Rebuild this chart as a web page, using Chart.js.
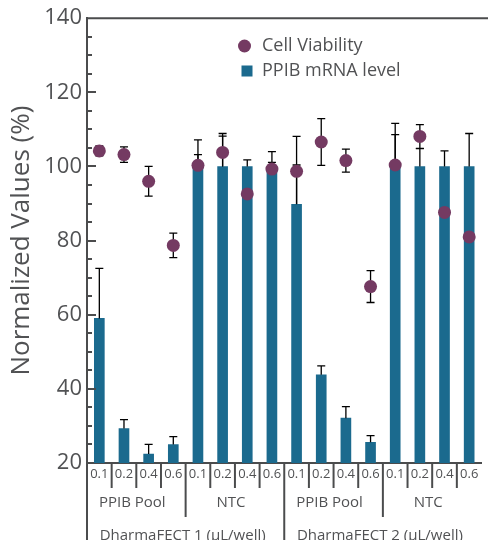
<!DOCTYPE html>
<html>
<head>
<meta charset="utf-8">
<script src="https://cdn.jsdelivr.net/npm/chart.js@4"></script>
<style>
  html, body { margin: 0; padding: 0; background: #fff; }
  #wrap { width: 488px; height: 540px; position: relative; }
</style>
</head>
<body>
<div id="wrap"><canvas id="chart"></canvas></div>
<script>
// doses per bar, group names and reagent names
const doses = ['0.1', '0.2', '0.4', '0.6', '0.1', '0.2', '0.4', '0.6',
               '0.1', '0.2', '0.4', '0.6', '0.1', '0.2', '0.4', '0.6'];
const groups = ['PPIB Pool', 'NTC', 'PPIB Pool', 'NTC'];
const reagents = ['DharmaFECT 1 (µL/well)', 'DharmaFECT 2 (µL/well)'];

// PPIB mRNA level (bars) and upper error
const mrnaLevel = [59, 29.3, 22.4, 25, 100, 100, 100, 100,
                   89.8, 43.8, 32.1, 25.6, 100, 100, 100, 100];
const mrnaErr = [13.5, 2.4, 2.6, 2.1, 7.2, 8.9, 1.8, 4.0,
                 10.6, 2.4, 3.1, 1.8, 11.6, 4.8, 4.2, 8.9];

// cell viability (dots) and +/- error
const viability = [104.2, 103.2, 96.0, 78.7, 100.3, 103.8, 92.6, 99.3,
                   98.7, 106.6, 101.6, 67.6, 100.4, 108.1, 87.6, 81.0];
const viabilityErr = [1.35, 2.1, 4.0, 3.3, 2.9, 4.4, 2.0, 1.8,
                      9.4, 6.3, 3.1, 4.3, 8.2, 3.2, 2.0, 2.0];

const yTicks = [20, 40, 60, 80, 100, 120, 140];

const barColor = '#1b6a8e';
const dotColor = '#743a62';
const axisColor = '#4b4c4d';
const textColor = '#515254';
const fontName = 'Open Sans';

// draw one error bar with a cap
function errorLine(ctx, x, yFrom, yTo, cap) {
  ctx.beginPath();
  ctx.moveTo(x, yFrom);
  ctx.lineTo(x, yTo);
  ctx.moveTo(x - cap, yTo);
  ctx.lineTo(x + cap, yTo);
  ctx.stroke();
}

const errorBars = {
  id: 'errorBars',
  // viability error bars go behind the bars
  beforeDatasetsDraw(chart) {
    const ctx = chart.ctx;
    const x = chart.scales.x, y = chart.scales.y;
    ctx.save();
    ctx.strokeStyle = '#000';
    ctx.lineWidth = 1.3;
    viability.forEach((v, i) => {
      const px = x.getPixelForValue(i);
      const mid = y.getPixelForValue(v);
      errorLine(ctx, px, mid, y.getPixelForValue(v + viabilityErr[i]), 4);
      errorLine(ctx, px, mid, y.getPixelForValue(v - viabilityErr[i]), 4);
    });
    ctx.restore();
  },
  afterDatasetDraw(chart, args) {
    if (args.index !== 0) return;
    const ctx = chart.ctx;
    const x = chart.scales.x, y = chart.scales.y;
    ctx.save();
    ctx.strokeStyle = '#000';
    ctx.lineWidth = 1.3;
    mrnaLevel.forEach((v, i) => {
      const px = x.getPixelForValue(i);
      errorLine(ctx, px, y.getPixelForValue(v), y.getPixelForValue(v + mrnaErr[i]), 4);
    });
    ctx.restore();
  }
};

const frame = {
  id: 'frame',
  afterDraw(chart) {
    const ctx = chart.ctx;
    const area = chart.chartArea;
    const x = chart.scales.x, y = chart.scales.y;
    const W = chart.width, H = chart.height;
    ctx.save();
    ctx.strokeStyle = axisColor;
    ctx.lineWidth = 2;

    // top line and long left line
    ctx.beginPath();
    ctx.moveTo(area.left, area.top);
    ctx.lineTo(W, area.top);
    ctx.moveTo(area.left, area.top);
    ctx.lineTo(area.left, H);
    ctx.stroke();

    // inward ticks on y axis, minor every 5
    for (let v = 25; v < 140; v += 5) {
      const py = Math.round(y.getPixelForValue(v));
      const len = yTicks.includes(v) ? 9 : 5;
      ctx.beginPath();
      ctx.moveTo(area.left, py);
      ctx.lineTo(area.left + len, py);
      ctx.stroke();
    }

    // dividers below the axis
    const step = (x.getPixelForValue(1) - x.getPixelForValue(0));
    for (let i = 1; i < doses.length; i++) {
      const bx = x.getPixelForValue(i) - step / 2;
      let bottom = area.bottom + 25;
      if (i % 4 === 0) bottom = area.bottom + 54;
      if (i % 8 === 0) bottom = H;
      ctx.beginPath();
      ctx.moveTo(bx, area.bottom);
      ctx.lineTo(bx, bottom);
      ctx.stroke();
    }

    ctx.fillStyle = textColor;
    ctx.textAlign = 'center';
    ctx.textBaseline = 'middle';
    ctx.font = '15px "' + fontName + '"';
    groups.forEach((g, k) => {
      const cx = (x.getPixelForValue(k * 4) + x.getPixelForValue(k * 4 + 3)) / 2;
      ctx.fillText(g, cx - 4, area.bottom + 40);
    });
    reagents.forEach((r, k) => {
      const cx = (x.getPixelForValue(k * 8) + x.getPixelForValue(k * 8 + 7)) / 2;
      ctx.fillText(r, cx - 3, area.bottom + 73);
    });

    // legend in the upper part of the plot
    ctx.textAlign = 'left';
    ctx.font = '18px "' + fontName + '"';
    ctx.fillStyle = dotColor;
    ctx.beginPath();
    ctx.arc(244.5, 46, 6.5, 0, Math.PI * 2);
    ctx.fill();
    ctx.fillStyle = barColor;
    ctx.fillRect(241.5, 65.5, 11, 11);
    ctx.fillStyle = textColor;
    ctx.fillText(chart.data.datasets[1].label, 262, 46);
    ctx.fillText(chart.data.datasets[0].label, 262, 71);
    ctx.restore();
  }
};

new Chart(document.getElementById('chart'), {
  type: 'bar',
  data: {
    labels: doses,
    datasets: [
      {
        label: 'PPIB mRNA level',
        data: mrnaLevel,
        backgroundColor: barColor,
        barThickness: 10,
        order: 2
      },
      {
        type: 'line',
        label: 'Cell Viability',
        data: viability,
        showLine: false,
        pointRadius: 6.5,
        pointHoverRadius: 6.5,
        pointBackgroundColor: dotColor,
        pointBorderWidth: 0,
        order: 1
      }
    ]
  },
  options: {
    responsive: true,
    maintainAspectRatio: false,
    animation: false,
    events: [],
    layout: { padding: { top: 18, right: 3 } },
    plugins: {
      legend: { display: false },
      tooltip: { enabled: false }
    },
    scales: {
      x: {
        grid: { display: false, drawTicks: false },
        border: { display: true, color: axisColor, width: 2 },
        ticks: {
          color: textColor,
          font: { family: fontName, size: 13 },
          padding: 3,
          maxRotation: 0,
          autoSkip: false
        },
        afterFit(scale) { scale.height = 77; }
      },
      y: {
        min: 20,
        max: 140,
        afterBuildTicks(scale) { scale.ticks = yTicks.map(v => ({ value: v })); },
        grid: { display: false, drawTicks: false },
        border: { display: true, color: axisColor, width: 2 },
        ticks: {
          color: textColor,
          font: { family: fontName, size: 22 },
          padding: 5
        },
        title: {
          display: true,
          text: 'Normalized Values (%)',
          color: textColor,
          font: { family: fontName, size: 26 },
          padding: { top: 6, bottom: 0 }
        },
        afterFit(scale) { scale.width = 87; }
      }
    }
  },
  plugins: [errorBars, frame]
});
</script>
</body>
</html>
